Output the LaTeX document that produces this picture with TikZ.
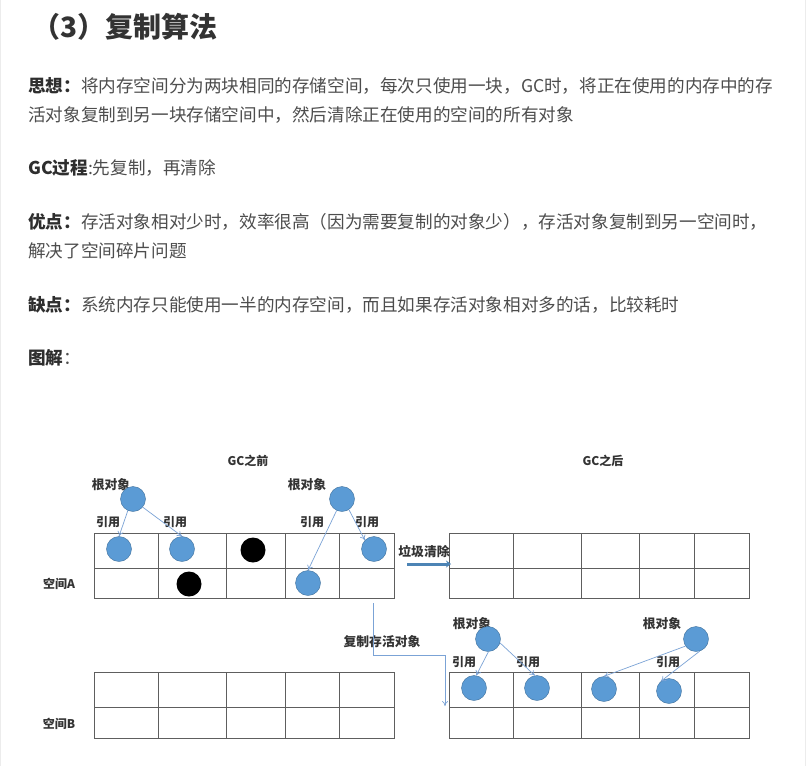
\documentclass[tikz,border=0pt]{standalone}
\usepackage{fontspec}
\setmainfont{Noto Sans CJK SC}
\usetikzlibrary{arrows.meta}
\definecolor{bodytxt}{HTML}{4D4D4D}
\definecolor{boldtxt}{HTML}{2E2E2E}
\definecolor{objblue}{HTML}{5B9BD5}
\definecolor{objedge}{HTML}{41719C}
\definecolor{refblue}{HTML}{7BA3D6}
\definecolor{gridgray}{HTML}{5E5E5E}
\definecolor{lbl}{HTML}{333333}
\tikzset{
  bodyline/.style={anchor=west,inner sep=0pt,font=\fontsize{17.6}{20}\selectfont,text=bodytxt},
  titleline/.style={anchor=west,inner sep=0pt,font=\fontsize{28}{31}\selectfont\bfseries,text=lbl},
  dlabel/.style={inner sep=0pt,font=\fontsize{12.8}{14}\selectfont\bfseries,text=lbl},
  slabel/.style={inner sep=0pt,font=\fontsize{12}{13}\selectfont\bfseries,text=lbl},
  liveobj/.style={circle,minimum size=25pt,inner sep=0pt,fill=objblue,draw=objedge,line width=0.4pt},
  deadobj/.style={circle,minimum size=25pt,inner sep=0pt,fill=black},
  refarrow/.style={draw=refblue,line width=0.7pt,-{To[length=5pt,width=6pt]}},
  grid/.style={draw=gridgray,line width=0.9pt},
}
\newcommand{\memgrid}[6]{%
  \draw[grid] (#1,\gyt) rectangle (#6,\gyb);
  \draw[grid] (#1,\gym) -- (#6,\gym);
  \foreach \xx in {#2,#3,#4,#5} {\draw[grid] (\xx,\gyt) -- (\xx,\gyb);}
}
\begin{document}
\begin{tikzpicture}[x=1pt,y=-1pt]
\useasboundingbox (0,0) rectangle (808,766);
\fill[white] (0,0) rectangle (808,766);
\draw[gray!15,line width=1pt] (0.5,0) -- (0.5,766);
\draw[gray!15,line width=1pt] (805,0) -- (805,766);

% ---- text ----
\node[titleline] (title) at (32,27) {（3）复制算法};
\node[bodyline] (l1) at (28,86) {{\bfseries\color{boldtxt}思想：}将内存空间分为两块相同的存储空间，每次只使用一块，GC时，将正在使用的内存中的存};
\node[bodyline] (l2) at (28,115) {活对象复制到另一块存储空间中，然后清除正在使用的空间的所有对象};
\node[bodyline] (l3) at (28,168) {{\bfseries\color{boldtxt}GC过程}:先复制，再清除};
\node[bodyline] (l4) at (28,222) {{\bfseries\color{boldtxt}优点：}存活对象相对少时，效率很高（因为需要复制的对象少），存活对象复制到另一空间时，};
\node[bodyline] (l5) at (28,251) {解决了空间碎片问题};
\node[bodyline] (l6) at (28,305) {{\bfseries\color{boldtxt}缺点：}系统内存只能使用一半的内存空间，而且如果存活对象相对多的话，比较耗时};
\node[bodyline] (l7) at (28,358) {{\bfseries\color{boldtxt}图解}：};

% ---- grids ----
\def\gyt{533}\def\gym{568}\def\gyb{598}
\memgrid{94}{158}{226}{285}{339}{394}
\memgrid{449}{513}{581}{639}{694}{749}
\def\gyt{672}\def\gym{707}\def\gyb{738}
\memgrid{94}{158}{226}{285}{339}{394}
\memgrid{449}{513}{581}{639}{694}{749}

% ---- labels ----
\node[slabel] (gcb) at (248,461) {GC之前};
\node[slabel] (gca) at (603,461) {GC之后};
\node[dlabel] (rl1) at (111,485) {根对象};
\node[dlabel] (rl2) at (307,485) {根对象};
\node[dlabel] (rl3) at (472,624) {根对象};
\node[dlabel] (rl4) at (662,624) {根对象};
\node[slabel] (y1) at (108,522) {引用};
\node[slabel] (y2) at (175,522) {引用};
\node[slabel] (y3) at (312,522) {引用};
\node[slabel] (y4) at (367,522) {引用};
\node[slabel] (y5) at (464,662) {引用};
\node[slabel] (y6) at (528,662) {引用};
\node[slabel] (y7) at (668,662) {引用};
\node[dlabel] (ljqc) at (424,552) {垃圾清除};
\node[dlabel] (fzch) at (382,642) {复制存活对象};
\node[slabel] (spa) at (59,584) {空间A};
\node[slabel] (spb) at (59,724) {空间B};

% ---- objects before GC ----
\node[liveobj] (r1) at (133,499) {};
\node[liveobj] (r2) at (342,499) {};
\node[liveobj] (c1) at (119,549) {};
\node[liveobj] (c2) at (182,549) {};
\node[deadobj] (k1) at (253,550) {};
\node[liveobj] (c5) at (374,549) {};
\node[deadobj] (k2) at (189,584) {};
\node[liveobj] (d1) at (308,583) {};

\draw[refarrow] (r1.-114) -- (c1.north);
\draw[refarrow] (r1.-40) -- (c2.north);
\draw[refarrow] (r2.-115) -- (d1.north);
\draw[refarrow] (r2.-57) -- (c5.136);

% ---- objects after copy ----
\node[liveobj] (r3) at (488,639) {};
\node[liveobj] (r4) at (696,639) {};
\node[liveobj] (c6) at (474,688) {};
\node[liveobj] (c7) at (537,688) {};
\node[liveobj] (c8) at (604,689) {};
\node[liveobj] (c9) at (669,691) {};

\draw[refarrow] (r3.-88) -- (c6.80);
\draw[refarrow] (r3.-18) -- (c7.100);
\draw[refarrow] (r4.-146) -- (c8.north);
\draw[refarrow] (r4.-73) -- (c9.130);

% ---- process arrows ----
\coordinate (g1) at (407,564);
\coordinate (g2) at (451,564);
\draw[draw=objblue!85!black,line width=3pt,-{Stealth[length=5pt,width=7pt]}] (g1) -- (g2);

\coordinate (cp1) at (373,603);
\coordinate (cpk) at (373,655);
\coordinate (cp2) at (445,706);
\draw[refarrow] (cp1) -- (cpk) -| (cp2);
\end{tikzpicture}
\end{document}
